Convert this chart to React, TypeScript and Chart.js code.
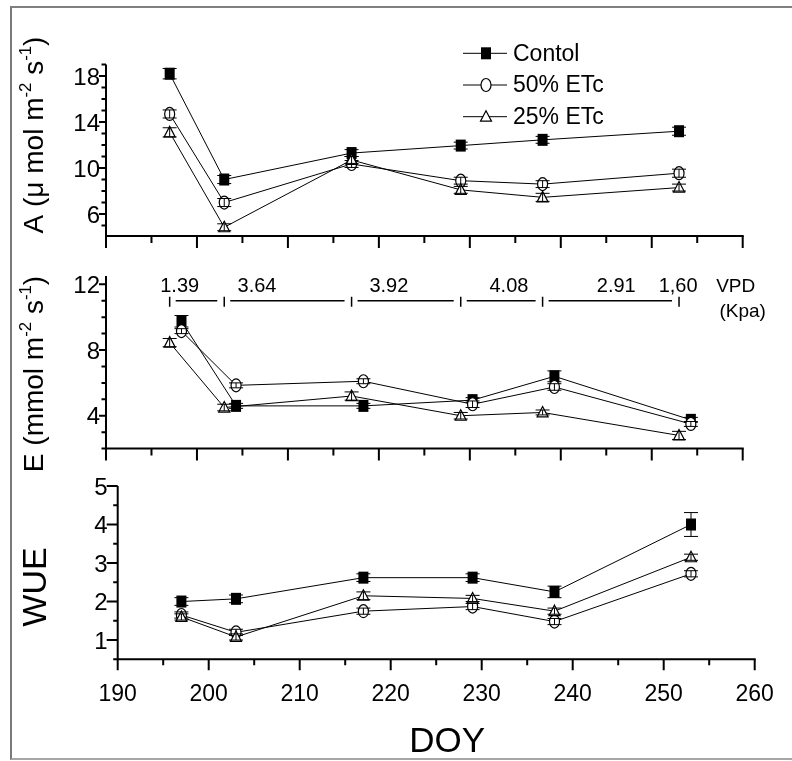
import React, { useEffect, useRef } from 'react';
import { Chart, registerables } from 'chart.js';

Chart.register(...registerables);

const FONT = '"Liberation Sans", Arial, Helvetica, sans-serif';

// sampling days (day of year)
const DOY = [197, 203, 217, 229, 238, 253];
// in the source, Control and 50% ETc transpiration points sit slightly right of the sampling day
const DOY_E_SHIFTED = [198.3, 204.3, 218.3, 230.3, 239.3, 254.3];

const SERIES_NAMES = ['Contol', '50% ETc', '25% ETc'];

// A (µmol m-2 s-1)
const A_CONTROL = [18.2, 9.0, 11.3, 11.95, 12.45, 13.2];
const A_CONTROL_ERR = [0.45, 0.35, 0.3, 0.3, 0.3, 0.35];
const A_50 = [14.7, 7.0, 10.35, 8.9, 8.6, 9.55];
const A_50_ERR = [0.35, 0.35, 0.3, 0.3, 0.3, 0.35];
const A_25 = [13.1, 4.85, 10.7, 8.1, 7.45, 8.3];
const A_25_ERR = [0.4, 0.3, 0.3, 0.3, 0.35, 0.3];

// E (mmol m-2 s-1)
const E_CONTROL = [9.75, 4.6, 4.6, 4.95, 6.4, 3.75];
const E_CONTROL_ERR = [0.35, 0.15, 0.15, 0.15, 0.33, 0.15];
const E_50 = [9.15, 5.85, 6.1, 4.7, 5.75, 3.5];
const E_50_ERR = [0.15, 0.15, 0.15, 0.2, 0.2, 0.15];
const E_25 = [8.45, 4.5, 5.2, 4.0, 4.2, 2.8];
const E_25_ERR = [0.25, 0.2, 0.25, 0.2, 0.15, 0.25];

// WUE
const W_CONTROL = [2.0, 2.07, 2.62, 2.62, 2.25, 4.0];
const W_CONTROL_ERR = [0.1, 0.1, 0.1, 0.1, 0.15, 0.31];
const W_50 = [1.65, 1.2, 1.75, 1.87, 1.48, 2.72];
const W_50_ERR = [0.08, 0.08, 0.08, 0.08, 0.08, 0.08];
const W_25 = [1.6, 1.08, 2.15, 2.08, 1.75, 3.15];
const W_25_ERR = [0.08, 0.08, 0.1, 0.08, 0.08, 0.08];

// VPD annotation (kPa)
const VPD_VALUES = ['1.39', '3.64', '3.92', '4.08', '2.91', '1,60'];
const VPD_LABEL_DOY = [198.1, 206.6, 221.1, 234.3, 246.1, 252.9];
const VPD_BOUNDS_DOY = [197, 203, 217, 229, 238, 253];
const VPD_TEXT_E = 11.85;
const VPD_LINE_E = 11.0;

const X_MIN = 190;
const X_MAX = 260;
const X_MAJOR = [190, 200, 210, 220, 230, 240, 250, 260];
const A_MAJOR = [6, 10, 14, 18];
const E_MAJOR = [4, 8, 12];
const W_MAJOR = [1, 2, 3, 4, 5];

type Marker = 'square' | 'circle' | 'triangle';
const MARKERS: Marker[] = ['square', 'circle', 'triangle'];

interface Series { x: number[]; y: number[]; err: number[] }
interface PanelDef {
  area: [number, number, number, number];
  yMin: number;
  yMax: number;
  yMajor: number[];
  yMinorStep: number;
  yMajorLen: number;
  xMajorLen: number;
  xMinorLen: number;
  xLabels: boolean;
  title: { parts: [string, boolean][]; size: number; cx: number; cy: number };
  series: Series[];
  legend?: boolean;
  vpd?: boolean;
}

const PANELS: PanelDef[] = [
  {
    area: [106, 64.5, 742.7, 236],
    yMin: 4.09, yMax: 19, yMajor: A_MAJOR, yMinorStep: 1, yMajorLen: 7,
    xMajorLen: 12, xMinorLen: 7, xLabels: false,
    title: { parts: [['A (\u03BC mol m', false], ['-2', true], [' s', false], ['-1', true], [')', false]], size: 28, cx: 33, cy: 135 },
    series: [
      { x: DOY, y: A_CONTROL, err: A_CONTROL_ERR },
      { x: DOY, y: A_50, err: A_50_ERR },
      { x: DOY, y: A_25, err: A_25_ERR },
    ],
    legend: true,
  },
  {
    area: [106, 276.1, 742.7, 448.6],
    yMin: 2, yMax: 12.5, yMajor: E_MAJOR, yMinorStep: 1, yMajorLen: 7,
    xMajorLen: 12, xMinorLen: 7, xLabels: false,
    title: { parts: [['E (mmol m', false], ['-2', true], [' s', false], ['-1', true], [')', false]], size: 28, cx: 33, cy: 374 },
    series: [
      { x: DOY_E_SHIFTED, y: E_CONTROL, err: E_CONTROL_ERR },
      { x: DOY_E_SHIFTED, y: E_50, err: E_50_ERR },
      { x: DOY, y: E_25, err: E_25_ERR },
    ],
    vpd: true,
  },
  {
    area: [117.7, 486, 754.7, 659.3],
    yMin: 0.5, yMax: 5, yMajor: W_MAJOR, yMinorStep: 0.5, yMajorLen: 11,
    xMajorLen: 11, xMinorLen: 6, xLabels: true,
    title: { parts: [['WUE', false]], size: 34, cx: 34, cy: 587 },
    series: [
      { x: DOY, y: W_CONTROL, err: W_CONTROL_ERR },
      { x: DOY, y: W_50, err: W_50_ERR },
      { x: DOY, y: W_25, err: W_25_ERR },
    ],
  },
];

function drawMarker(ctx: CanvasRenderingContext2D, kind: Marker, x: number, y: number) {
  ctx.save();
  ctx.lineWidth = 1.2;
  ctx.strokeStyle = '#000';
  if (kind === 'square') {
    ctx.fillStyle = '#000';
    ctx.fillRect(x - 5, y - 6, 10, 12);
  } else if (kind === 'circle') {
    ctx.beginPath();
    ctx.ellipse(x, y, 5, 6.5, 0, 0, Math.PI * 2);
    ctx.fillStyle = '#fff';
    ctx.fill();
    ctx.stroke();
  } else {
    ctx.beginPath();
    ctx.moveTo(x, y - 6);
    ctx.lineTo(x + 5.5, y + 4.5);
    ctx.lineTo(x - 5.5, y + 4.5);
    ctx.closePath();
    ctx.fillStyle = '#fff';
    ctx.fill();
    ctx.stroke();
  }
  ctx.restore();
}

function drawRotatedTitle(ctx: CanvasRenderingContext2D, parts: [string, boolean][], size: number, cx: number, cy: number) {
  ctx.save();
  ctx.translate(cx, cy);
  ctx.rotate(-Math.PI / 2);
  ctx.fillStyle = '#000';
  ctx.textBaseline = 'alphabetic';
  ctx.textAlign = 'left';
  const sup = size * 0.6;
  let total = 0;
  const widths: number[] = [];
  parts.forEach(([t, s]) => {
    ctx.font = `${s ? sup : size}px ${FONT}`;
    const w = ctx.measureText(t).width;
    widths.push(w);
    total += w;
  });
  let u = -total / 2;
  const base = size * 0.36;
  parts.forEach(([t, s], i) => {
    ctx.font = `${s ? sup : size}px ${FONT}`;
    ctx.fillText(t, u, s ? base - size * 0.42 : base);
    u += widths[i];
  });
  ctx.restore();
}

function makePlugin(p: PanelDef) {
  return {
    id: 'panelDecor',
    afterDatasetsDraw(chart: any) {
      const ctx: CanvasRenderingContext2D = chart.ctx;
      const ys = chart.scales.y;
      p.series.forEach((s, i) => {
        const meta = chart.getDatasetMeta(i);
        meta.data.forEach((el: any, j: number) => {
          drawMarker(ctx, MARKERS[i], el.x, el.y);
          const e = s.err[j];
          const y1 = ys.getPixelForValue(s.y[j] + e);
          const y2 = ys.getPixelForValue(s.y[j] - e);
          ctx.save();
          ctx.strokeStyle = '#000';
          ctx.lineWidth = 1;
          ctx.beginPath();
          ctx.moveTo(el.x, y1);
          ctx.lineTo(el.x, y2);
          ctx.moveTo(el.x - 7, y1);
          ctx.lineTo(el.x + 7, y1);
          ctx.moveTo(el.x - 7, y2);
          ctx.lineTo(el.x + 7, y2);
          ctx.stroke();
          ctx.restore();
        });
      });
    },
    afterDraw(chart: any) {
      const ctx: CanvasRenderingContext2D = chart.ctx;
      const xs = chart.scales.x;
      const ys = chart.scales.y;
      const { left, right, top, bottom } = chart.chartArea;
      ctx.save();
      ctx.strokeStyle = '#000';
      ctx.fillStyle = '#000';
      ctx.lineWidth = 2;
      ctx.beginPath();
      ctx.moveTo(left - 1, bottom);
      ctx.lineTo(right + 1, bottom);
      ctx.moveTo(left, top);
      ctx.lineTo(left, bottom + 1);
      ctx.stroke();
      ctx.beginPath();
      for (let v = X_MIN; v <= X_MAX; v += 5) {
        const x = xs.getPixelForValue(v);
        const len = X_MAJOR.includes(v) ? p.xMajorLen : p.xMinorLen;
        ctx.moveTo(x, bottom);
        ctx.lineTo(x, bottom + len);
      }
      ctx.stroke();
      if (p.xLabels) {
        ctx.font = `23px ${FONT}`;
        ctx.textAlign = 'center';
        ctx.textBaseline = 'middle';
        X_MAJOR.forEach((v) => ctx.fillText(String(v), xs.getPixelForValue(v), 695));
        ctx.font = `35px ${FONT}`;
        ctx.fillText('DOY', (left + right) / 2 + 11, 742);
      }
      ctx.beginPath();
      const start = Math.ceil(p.yMin / p.yMinorStep - 1e-9) * p.yMinorStep;
      for (let v = start; v <= p.yMax + 1e-9; v += p.yMinorStep) {
        const y = ys.getPixelForValue(v);
        const isMajor = p.yMajor.some((m) => Math.abs(m - v) < 1e-6);
        const len = isMajor ? p.yMajorLen : 4.5;
        ctx.moveTo(left, y);
        ctx.lineTo(left - len, y);
      }
      ctx.stroke();
      ctx.font = `24px ${FONT}`;
      ctx.textAlign = 'right';
      ctx.textBaseline = 'middle';
      p.yMajor.forEach((v) => ctx.fillText(String(v), left - p.yMajorLen + 1, ys.getPixelForValue(v) + 2));
      ctx.restore();

      drawRotatedTitle(ctx, p.title.parts, p.title.size, p.title.cx, p.title.cy);

      if (p.legend) {
        const rows = [53.3, 85, 116.7];
        ctx.save();
        rows.forEach((ry, i) => {
          ctx.strokeStyle = '#000';
          ctx.lineWidth = 1;
          ctx.beginPath();
          ctx.moveTo(463, ry);
          ctx.lineTo(507, ry);
          ctx.stroke();
          drawMarker(ctx, MARKERS[i], 486, ry);
          ctx.fillStyle = '#000';
          ctx.font = `23px ${FONT}`;
          ctx.textAlign = 'left';
          ctx.textBaseline = 'middle';
          ctx.fillText(SERIES_NAMES[i], 513, ry + 1);
        });
        ctx.restore();
      }

      if (p.vpd) {
        ctx.save();
        ctx.fillStyle = '#000';
        ctx.strokeStyle = '#000';
        ctx.font = `20px ${FONT}`;
        ctx.textAlign = 'center';
        ctx.textBaseline = 'middle';
        const ty = ys.getPixelForValue(VPD_TEXT_E);
        const ly = ys.getPixelForValue(VPD_LINE_E);
        VPD_VALUES.forEach((t, i) => ctx.fillText(t, xs.getPixelForValue(VPD_LABEL_DOY[i]), ty));
        ctx.lineWidth = 1.5;
        ctx.beginPath();
        VPD_BOUNDS_DOY.forEach((d) => {
          const x = xs.getPixelForValue(d);
          ctx.moveTo(x, ly - 4);
          ctx.lineTo(x, ly + 6);
        });
        for (let i = 0; i < VPD_BOUNDS_DOY.length - 1; i++) {
          ctx.moveTo(xs.getPixelForValue(VPD_BOUNDS_DOY[i]) + 6, ly);
          ctx.lineTo(xs.getPixelForValue(VPD_BOUNDS_DOY[i + 1]) - 7, ly);
        }
        ctx.stroke();
        ctx.font = `19px ${FONT}`;
        ctx.fillText('VPD', right - 7, ty);
        ctx.fillText('(Kpa)', right, ty + 25);
        ctx.restore();
      }
    },
  };
}

const W = 792;
const H = 761;

function PanelCanvas({ panel }: { panel: PanelDef }) {
  const ref = useRef<HTMLCanvasElement | null>(null);
  useEffect(() => {
    if (!ref.current) return;
    const [l, t, r, b] = panel.area;
    const chart = new Chart(ref.current, {
      type: 'line',
      data: {
        datasets: panel.series.map((s, i) => ({
          label: SERIES_NAMES[i],
          data: s.x.map((x, j) => ({ x, y: s.y[j] })),
          borderColor: '#000',
          borderWidth: 1,
          pointRadius: 0,
          pointHoverRadius: 0,
          fill: false,
          tension: 0,
        })),
      },
      options: {
        animation: false,
        responsive: false,
        devicePixelRatio: 1,
        events: [],
        layout: { padding: { left: l, top: t, right: W - r, bottom: H - b } },
        plugins: { legend: { display: false }, tooltip: { enabled: false }, title: { display: false } },
        scales: {
          x: { type: 'linear', min: X_MIN, max: X_MAX, display: false },
          y: { type: 'linear', min: panel.yMin, max: panel.yMax, display: false },
        },
      },
      plugins: [makePlugin(panel) as any],
    } as any);
    return () => chart.destroy();
  }, [panel]);
  return <canvas ref={ref} width={W} height={H} style={{ position: 'absolute', left: 0, top: 0, width: W, height: H }} />;
}

export default function App() {
  return (
    <div style={{ position: 'absolute', left: 0, top: 0, width: W, height: H, background: '#fff', overflow: 'hidden' }}>
      <div
        style={{
          position: 'absolute', left: 10, top: 6, width: 900, height: 750,
          borderLeft: '2px solid #7a7a7a', borderTop: '2px solid #808080', borderBottom: '2px solid #a6a6a6',
        }}
      />
      {PANELS.map((p, i) => (
        <PanelCanvas key={i} panel={p} />
      ))}
    </div>
  );
}
